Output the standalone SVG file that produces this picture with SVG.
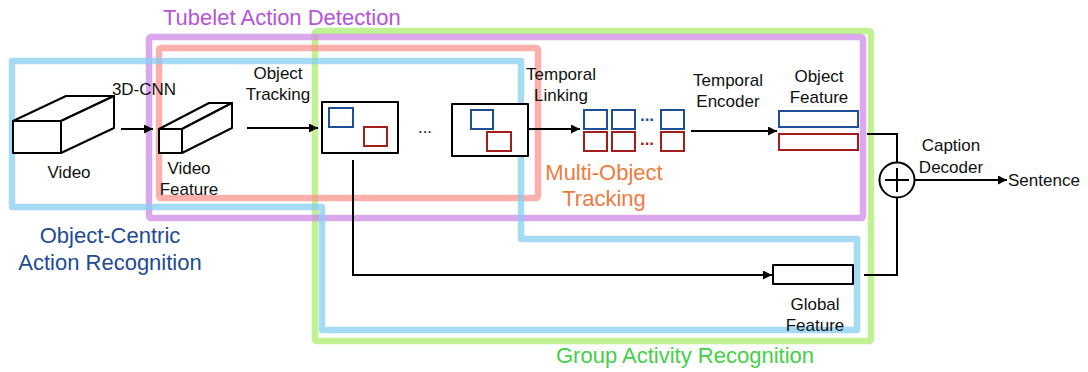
<svg xmlns="http://www.w3.org/2000/svg" width="1088" height="372" viewBox="0 0 1088 372">
  <style>
    .band { fill: none; stroke-width: 6.5; stroke-linejoin: round; stroke-opacity: 0.72; }
    .b-blue { stroke: #84cdf3; }
    .b-purple { stroke: #cf86e6; }
    .b-red { stroke: #f9928a; }
    .b-green { stroke: #a8ec6a; }
    .shape { fill: #ffffff; stroke: #000000; stroke-width: 2; stroke-linejoin: round; }
    .obj-b { fill: none; stroke: #1d4f98; stroke-width: 2; }
    .obj-r { fill: none; stroke: #a31d1d; stroke-width: 2; }
    .wire { fill: none; stroke: #000000; stroke-width: 2; }
    .lbl { font-family: "Liberation Sans", Arial, Helvetica, sans-serif; font-size: 17px; fill: #111111; text-anchor: middle; }
    .big { font-family: "Liberation Sans", Arial, Helvetica, sans-serif; font-size: 22px; text-anchor: middle; }
  </style>
  <defs>
    <marker id="arrow" viewBox="0 0 10 10" refX="10" refY="5" markerWidth="9" markerHeight="9" markerUnits="userSpaceOnUse" orient="auto">
      <path d="M0,0 L10,5 L0,10 z" fill="#000000"/>
    </marker>
  </defs>

  <rect width="1088" height="372" fill="#ffffff"/>

  <!-- task regions -->
  <g id="region-group-activity">
    <rect class="band b-green" x="315" y="31" width="556" height="310" rx="2"/>
    <text class="big" x="685" y="363" fill="#44cf48">Group Activity Recognition</text>
  </g>
  <g id="region-tubelet">
    <rect class="band b-purple" x="149" y="37" width="714" height="181" rx="2"/>
    <text class="big" x="163" y="25" fill="#b653d9" text-anchor="start" style="text-anchor:start">Tubelet Action Detection</text>
  </g>
  <g id="region-mot">
    <rect class="band b-red" x="159" y="48" width="379" height="150" rx="2"/>
    <text class="big" x="604" y="180" fill="#f07b3f">Multi-Object</text>
    <text class="big" x="604" y="206" fill="#f07b3f">Tracking</text>
  </g>
  <g id="region-object-centric">
    <path class="band b-blue" d="M12,61 H521 V239 H857 V330 H322 V207 H12 Z"/>
    <text class="big" x="110" y="243" fill="#1e4b94">Object-Centric</text>
    <text class="big" x="110" y="270" fill="#1e4b94">Action Recognition</text>
  </g>

  <!-- connectors -->
  <g id="connectors">
    <line class="wire" x1="121" y1="129" x2="153" y2="129" marker-end="url(#arrow)"/>
    <line class="wire" x1="247" y1="128" x2="318" y2="128" marker-end="url(#arrow)"/>
    <line class="wire" x1="528" y1="129" x2="580" y2="129" stroke-width="1.3" marker-end="url(#arrow)"/>
    <line class="wire" x1="691" y1="131" x2="777" y2="131" stroke="#888888" stroke-width="1.3" marker-end="url(#arrow)"/>
    <polyline class="wire" points="353,160 353,275 772,275" marker-end="url(#arrow)"/>
    <polyline class="wire" points="867,134 897,134 897,162"/>
    <polyline class="wire" points="864,275 897,275 897,197"/>
    <line class="wire" x1="914" y1="180" x2="1007" y2="180" marker-end="url(#arrow)"/>
  </g>

  <!-- nodes -->
  <g id="video">
    <path class="shape" d="M13,121 L66,96 H114 L61,121 Z"/>
    <path class="shape" d="M61,121 L114,96 V128 L61,153 Z"/>
    <rect class="shape" x="13" y="121" width="48" height="32"/>
    <text class="lbl" x="69" y="178">Video</text>
  </g>
  <text class="lbl" x="144" y="95">3D-CNN</text>

  <g id="video-feature">
    <path class="shape" d="M159,129 L209,103 H232 L182,129 Z"/>
    <path class="shape" d="M182,129 L232,103 V128 L182,153 Z"/>
    <rect class="shape" x="159" y="129" width="23" height="24"/>
    <text class="lbl" x="189" y="174">Video</text>
    <text class="lbl" x="189" y="195">Feature</text>
  </g>

  <g id="object-tracking-label">
    <text class="lbl" x="278" y="79">Object</text>
    <text class="lbl" x="278" y="100">Tracking</text>
  </g>

  <g id="frame-first">
    <rect class="shape" x="322" y="102" width="76" height="51"/>
    <rect class="obj-b" x="329" y="108" width="24" height="19"/>
    <rect class="obj-r" x="364" y="127" width="23" height="19"/>
  </g>
  <text class="lbl" x="425" y="133">...</text>
  <g id="frame-last">
    <rect class="shape" x="452" y="104" width="76" height="52"/>
    <rect class="obj-b" x="471" y="110" width="22" height="19"/>
    <rect class="obj-r" x="487" y="132" width="24" height="19"/>
  </g>

  <g id="temporal-linking-label">
    <text class="lbl" x="561" y="80">Temporal</text>
    <text class="lbl" x="561" y="101">Linking</text>
  </g>

  <g id="tracklets">
    <rect class="obj-b" x="584" y="110" width="23" height="19"/>
    <rect class="obj-b" x="612" y="110" width="23" height="19"/>
    <rect class="obj-b" x="661" y="110" width="23" height="19"/>
    <rect class="obj-r" x="584" y="132" width="23" height="19"/>
    <rect class="obj-r" x="612" y="132" width="23" height="19"/>
    <rect class="obj-r" x="661" y="132" width="23" height="19"/>
    <text class="lbl" x="647" y="121" fill="#1d4f98" font-weight="bold" style="fill:#1d4f98">...</text>
    <text class="lbl" x="647" y="145" fill="#a31d1d" font-weight="bold" style="fill:#a31d1d">...</text>
  </g>

  <g id="temporal-encoder-label">
    <text class="lbl" x="728" y="86">Temporal</text>
    <text class="lbl" x="728" y="107">Encoder</text>
  </g>

  <g id="object-feature">
    <rect class="obj-b" x="779" y="111" width="79" height="16"/>
    <rect class="obj-r" x="779" y="134" width="79" height="16"/>
    <text class="lbl" x="819" y="82">Object</text>
    <text class="lbl" x="819" y="103">Feature</text>
  </g>

  <g id="global-feature">
    <rect class="shape" x="773" y="265" width="80" height="19"/>
    <text class="lbl" x="815" y="310">Global</text>
    <text class="lbl" x="815" y="331">Feature</text>
  </g>

  <g id="caption-decoder">
    <circle class="shape" cx="897" cy="180" r="17.5"/>
    <line class="wire" x1="885" y1="180" x2="909" y2="180"/>
    <line class="wire" x1="897" y1="168" x2="897" y2="192"/>
    <text class="lbl" x="951" y="151">Caption</text>
    <text class="lbl" x="951" y="173">Decoder</text>
  </g>

  <g id="sentence">
    <text class="lbl" x="1008" y="186" style="text-anchor:start">Sentence</text>
  </g>
</svg>
